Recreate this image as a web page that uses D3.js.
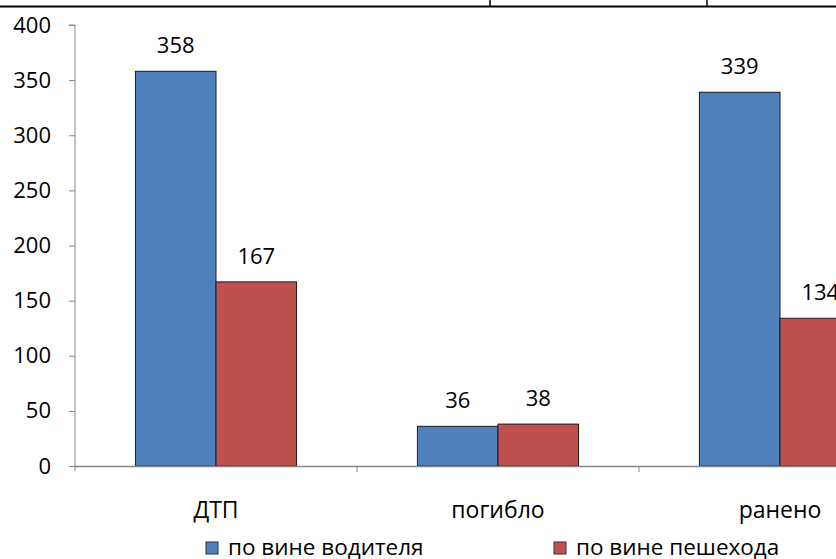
<!DOCTYPE html>
<html>
<head>
<meta charset="utf-8">
<script src="https://cdn.jsdelivr.net/npm/d3@7"></script>
<style>
  html, body { margin: 0; padding: 0; background: #fff; }
  svg { display: block; }
  text { font-family: "Open Sans", "Noto Sans", sans-serif; fill: #000; }
</style>
</head>
<body>
<svg id="chart" width="836" height="559"></svg>
<script>
// Road traffic accident statistics: driver fault vs pedestrian fault
const categories = ["ДТП", "погибло", "ранено"];
const seriesNames = ["по вине водителя", "по вине пешехода"];
const driverValues = [358, 36, 339];
const pedestrianValues = [167, 38, 134];
const yTicks = [0, 50, 100, 150, 200, 250, 300, 350, 400];
const seriesColors = ["#4F81BD", "#C0504D"];

const svg = d3.select("#chart");
const W = 836, H = 559;

// page table border above the chart
svg.append("line").attr("x1", 0).attr("x2", W).attr("y1", 6.5).attr("y2", 6.5)
  .attr("stroke", "#000").attr("stroke-width", 2);
[490, 707].forEach(x => {
  svg.append("line").attr("x1", x).attr("x2", x).attr("y1", 0).attr("y2", 6)
    .attr("stroke", "#000").attr("stroke-width", 1.5);
});

const plot = { left: 75, top: 25, bottom: 466, right: 75 + 3 * 282 };

const y = d3.scaleLinear().domain([0, 400]).range([plot.bottom, plot.top]);
const x = d3.scaleBand().domain(categories).range([plot.left, plot.right]).padding(0);
const xs = d3.scaleBand().domain(seriesNames).range([0, x.bandwidth()])
  .paddingInner(0).paddingOuter(0.75);

const axisColor = "#868686";

// y axis
const yAxis = d3.axisLeft(y).tickValues(yTicks).tickSize(6).tickPadding(18);
const gy = svg.append("g").attr("transform", `translate(${plot.left},0)`).call(yAxis);
gy.select(".domain").attr("stroke", axisColor).attr("d", `M-6,${plot.top}H0V${plot.bottom + 5}`);
gy.selectAll(".tick line").attr("stroke", axisColor);
gy.selectAll(".tick text").attr("font-size", 22).attr("font-family", "Open Sans").attr("fill", "#111");

// bars
const rows = categories.map((c, i) => ({ cat: c, vals: [driverValues[i], pedestrianValues[i]] }));
const groups = svg.append("g").selectAll("g").data(rows).join("g")
  .attr("transform", d => `translate(${x(d.cat)},0)`);
groups.selectAll("rect").data(d => d.vals.map((v, j) => ({ v, s: seriesNames[j], j })))
  .join("rect")
  .attr("x", d => xs(d.s))
  .attr("y", d => y(d.v))
  .attr("width", xs.bandwidth())
  .attr("height", d => y(0) - y(d.v))
  .attr("fill", d => seriesColors[d.j])
  .attr("stroke", "#1a1a1a").attr("stroke-width", 1);
groups.selectAll("text").data(d => d.vals.map((v, j) => ({ v, s: seriesNames[j] })))
  .join("text")
  .attr("x", d => xs(d.s) + xs.bandwidth() / 2)
  .attr("y", d => y(d.v) - 18)
  .attr("text-anchor", "middle")
  .attr("font-size", 22)
  .attr("fill", "#222")
  .text(d => d.v);

// x axis
const boundaries = categories.slice(1).map(c => x(c));
svg.append("line").attr("x1", plot.left).attr("x2", W).attr("y1", plot.bottom + 0.5).attr("y2", plot.bottom + 0.5)
  .attr("stroke", axisColor).attr("stroke-width", 1.5);
svg.append("g").selectAll("line").data(boundaries).join("line")
  .attr("x1", d => d).attr("x2", d => d)
  .attr("y1", plot.bottom).attr("y2", plot.bottom + 6)
  .attr("stroke", axisColor);
svg.append("g").selectAll("text").data(categories).join("text")
  .attr("x", d => x(d) + x.bandwidth() / 2)
  .attr("y", 518)
  .attr("text-anchor", "middle")
  .attr("font-size", 23)
  .attr("fill", "#1a1a1a")
  .text(d => d);

// legend
const legendX = [206, 554];
const leg = svg.append("g").selectAll("g").data(seriesNames).join("g")
  .attr("transform", (d, i) => `translate(${legendX[i]},542)`);
leg.append("rect").attr("width", 12).attr("height", 12)
  .attr("fill", (d, i) => seriesColors[i]).attr("stroke", "#333").attr("stroke-width", 1);
leg.append("text").attr("x", 22).attr("y", 13).attr("font-size", 22.5).attr("fill", "#111").text(d => d);
</script>
</body>
</html>
